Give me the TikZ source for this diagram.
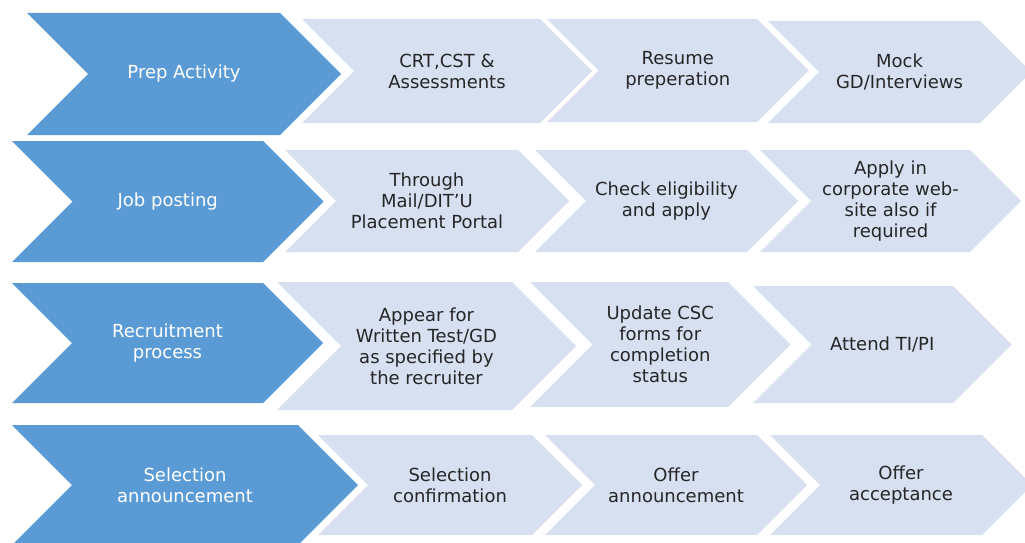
\documentclass[tikz,border=0pt]{standalone}
\usepackage{fontspec}
\setmainfont{DejaVu Sans}
\definecolor{darkchev}{RGB}{91,155,213}
\definecolor{lightchev}{RGB}{214,224,240}
\newcommand\chv[7]{%
  \pgfmathsetmacro\chd{(#5-#4)/2}%
  \pgfmathsetmacro\chm{(#4+#5)/2}%
  \fill[#6] (#2,#4) -- (#3,#4) -- ({#3+\chd},\chm) -- (#3,#5) -- (#2,#5) -- ({#2+\chd},\chm) -- cycle;
  \node[#6 text] (#1) at ({(#2+\chd+#3)/2},\chm) {#7};
}
\tikzset{
  dark/.style={fill=darkchev},
  light/.style={fill=lightchev},
  basetext/.style={align=center, inner sep=0pt, font=\fontsize{18}{21}\selectfont},
  dark text/.style={basetext, text=white},
  light text/.style={basetext, text=black!85},
}
\begin{document}
\begin{tikzpicture}[x=1pt,y=-1pt]
\useasboundingbox (0,0) rectangle (1025,543);
\clip (0,0) rectangle (1025,543);
% Row 1
\chv{r1a}{27}{280}{13}{135}{dark}{Prep Activity}
\chv{r1b}{302}{540}{19}{123}{light}{CRT,CST \&\\Assessments}
\chv{r1c}{547}{757}{19}{122}{light}{Resume\\preperation}
\chv{r1d}{768}{980}{21}{123}{light}{Mock\\GD/Interviews}
% Row 2
\chv{r2a}{12}{263}{141}{262}{dark}{Job posting}
\chv{r2b}{285}{518}{150}{252}{light}{Through\\Mail/DIT'U\\Placement Portal}
\chv{r2c}{535}{747}{150}{252}{light}{Check eligibility\\and apply}
\chv{r2d}{760}{970}{150}{252}{light}{Apply in\\corporate web-\\site also if\\required}
% Row 3
\chv{r3a}{12}{263}{283}{403}{dark}{Recruitment\\process}
\chv{r3b}{277}{512}{282}{410}{light}{Appear for\\Written Test/GD\\as specified by\\the recruiter}
\chv{r3c}{530}{728}{282}{407}{light}{Update CSC\\forms for\\completion\\status}
\chv{r3d}{753}{953}{286}{403}{light}{Attend TI/PI}
% Row 4
\chv{r4a}{12}{298}{425}{545}{dark}{Selection\\announcement}
\chv{r4b}{318}{532}{435}{535}{light}{Selection\\confirmation}
\chv{r4c}{545}{757}{435}{535}{light}{Offer\\announcement}
\chv{r4d}{770}{982}{435}{535}{light}{Offer\\acceptance}
\end{tikzpicture}
\end{document}
